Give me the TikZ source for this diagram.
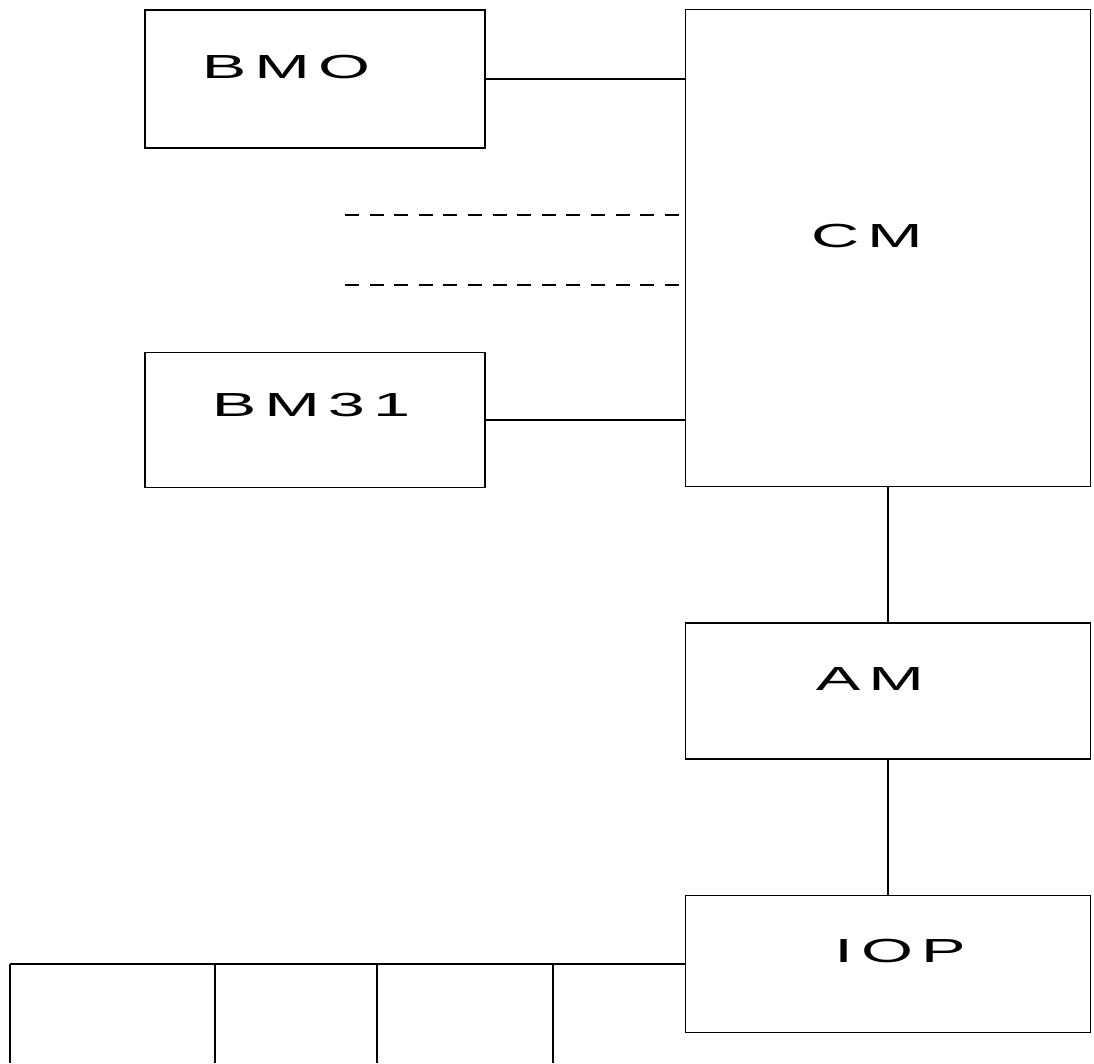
\documentclass[tikz,border=0pt]{standalone}
\usepackage{fontspec}
\newfontfamily\plotfont{Liberation Sans}[FakeStretch=2.0,LetterSpace=24]
\usetikzlibrary{calc}
\tikzset{
  unitbox/.style={draw,line width=0.9pt,minimum width=#1},
  lbl/.style={font=\plotfont\fontsize{19}{19}\selectfont,inner sep=0pt}
}

\begin{document}
\begin{tikzpicture}[x=0.02cm,y=-0.02cm,line width=0.9pt]
  \useasboundingbox (0,0) rectangle (1094,1063);
  % modules on the left
  \node[unitbox=6.8cm,minimum height=2.76cm,
    label={[lbl,xshift=-0.58cm,yshift=0.24cm]center:BMO}] (bmo) at (315,79) {};
  \node[unitbox=6.8cm,minimum height=2.7cm,
    label={[lbl,xshift=-0.08cm,yshift=0.3cm]center:BM31}] (bm31) at (315,420) {};
  % central memory
  \node[unitbox=8.1cm,minimum height=9.54cm,
    label={[lbl,xshift=-0.42cm,yshift=0.24cm]center:CM}] (cm) at (888,248) {};
  % access module
  \node[unitbox=8.1cm,minimum height=2.72cm,
    label={[lbl,xshift=-0.36cm,yshift=0.24cm]center:AM}] (am) at (888,691) {};
  % i/o processor
  \node[unitbox=8.1cm,minimum height=2.74cm,
    label={[lbl,xshift=0.24cm,yshift=0.27cm]center:IOP}] (iop) at (888,964) {};
  % links into CM
  \draw (bmo.east) -- (bmo.east -| cm.west);
  \draw (bm31.east) -- (bm31.east -| cm.west);
  \coordinate (dash1) at (345,215);
  \coordinate (dash2) at (345,285);
  \draw[dashed,dash pattern=on 8pt off 6pt] (dash1) -- (dash1 -| cm.west);
  \draw[dashed,dash pattern=on 8pt off 6pt] (dash2) -- (dash2 -| cm.west);
  % vertical chain
  \draw (cm.south) -- (am.north);
  \draw (am.south) -- (iop.north);
  % bus from IOP
  \coordinate (bus) at (10,964);
  \draw (bus) -- (iop.west);
  \foreach \x in {10,215,377,553}
    \draw (\x,964) -- (\x,1063);
\end{tikzpicture}
\end{document}
